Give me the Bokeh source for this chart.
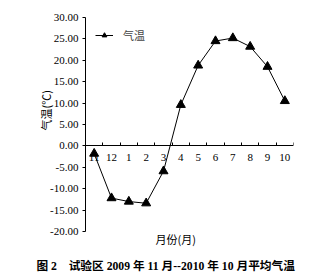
from bokeh.plotting import figure
from bokeh.models import (Range1d, FixedTicker, NumeralTickFormatter, Title, Label, Legend, LegendItem)
from bokeh.embed import file_html
from bokeh.resources import INLINE

# ---- data ----
months = ["11", "12", "1", "2", "3", "4", "5", "6", "7", "8", "9", "10"]
temps = [-1.8, -12.2, -13.0, -13.4, -5.9, 9.6, 18.8, 24.5, 25.2, 23.2, 18.5, 10.5]
y_ticks = [-20, -15, -10, -5, 0, 5, 10, 15, 20, 25, 30]
series_name = "气温"
y_title = "气温(℃)"
x_title = "月份(月)"
caption = "图 2\u3000试验区 2009 年 11 月--2010 年 10 月平均气温"

FONT = "'Liberation Serif', 'Noto Sans CJK SC'"
CJK = "'Noto Sans CJK SC'"

xs = list(range(len(months)))

# frame: y=30 at px 17, y=-20 at px 231 (4.28 px per unit); frame extended down to px 256
y_lo = -20 - (256 - 231) / ((231 - 17) / 50)

p = figure(width=318, height=276, output_backend="svg", toolbar_location=None,
           x_range=Range1d(-0.5, len(months) - 0.5), y_range=Range1d(y_lo, 30),
           min_border_left=85, min_border_right=25, min_border_top=17, min_border_bottom=20)
p.outline_line_color = None
p.grid.visible = False
p.background_fill_color = "white"
p.border_fill_color = "white"

# y axis
ya = p.yaxis[0]
ya.bounds = (-20, 30)
ya.ticker = FixedTicker(ticks=y_ticks)
ya.formatter = NumeralTickFormatter(format="0.00")
ya.major_tick_in = 0
ya.major_tick_out = 3
ya.minor_tick_in = 0
ya.minor_tick_out = 0
ya.major_label_standoff = 4
ya.major_label_text_font = FONT
ya.major_label_text_font_size = "11px"
ya.major_label_text_color = "black"
ya.axis_line_color = "black"
ya.major_tick_line_color = "black"

# x axis at y = 0
xa = p.xaxis[0]
xa.fixed_location = 0
xa.ticker = FixedTicker(ticks=xs, minor_ticks=[i - 0.5 for i in range(len(months) + 1)])
xa.major_label_overrides = {i: m for i, m in zip(xs, months)}
xa.major_tick_in = 0
xa.major_tick_out = 0
xa.minor_tick_in = 3
xa.minor_tick_out = 0
xa.minor_tick_line_color = "black"
xa.major_label_standoff = 8
xa.major_label_text_font = FONT
xa.major_label_text_font_size = "11px"
xa.major_label_text_color = "black"
xa.axis_line_color = "black"

r_line = p.line(xs, temps, line_color="black", line_width=1)
r_pts = p.scatter(xs, temps, marker="triangle", size=9, fill_color="black", line_color="black")

legend = Legend(items=[LegendItem(label=series_name, renderers=[r_line, r_pts])],
                location="top_left", margin=0, padding=10, glyph_width=18, glyph_height=12,
                label_standoff=10, label_text_font=CJK, label_text_font_size="11px",
                background_fill_alpha=0, border_line_alpha=0)
p.add_layout(legend)

p.add_layout(Title(text=y_title, align="left", offset=126, standoff=-12,
                   text_font=CJK, text_font_size="11px", text_font_style="normal",
                   text_color="black"), "left")
p.add_layout(Label(x=70, y=18, x_units="screen", y_units="screen", text=x_title,
                   text_align="left", text_baseline="middle",
                   text_font=CJK, text_font_size="11px", text_color="black"))
p.add_layout(Title(text=caption, align="left", offset=-49, standoff=3,
                   text_font=FONT, text_font_size="11.7px", text_font_style="bold",
                   text_color="black"), "below")

open("out.html", "w").write(file_html(p, INLINE))
